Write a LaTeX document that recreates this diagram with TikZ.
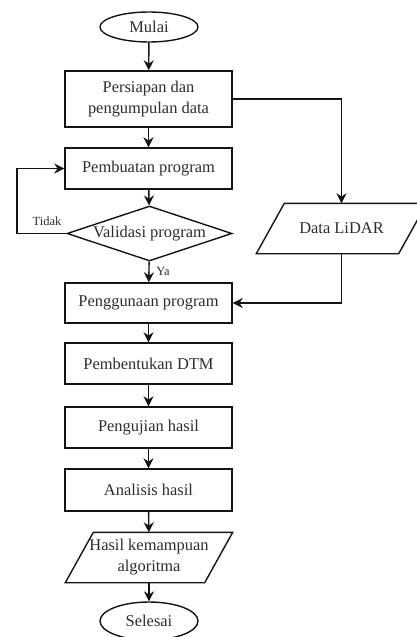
\documentclass[tikz,border=0pt]{standalone}
\usepackage{fontspec}
\setmainfont{Liberation Serif}
\usetikzlibrary{arrows.meta, shapes.geometric}
\definecolor{inkc}{RGB}{20,20,20}
\definecolor{txtc}{RGB}{45,45,45}

\begin{document}
\begin{tikzpicture}[x=1bp, y=-1bp,
    line width=1.4bp, inkc,
    font=\fontsize{16.5}{21}\selectfont,
    box/.style={draw, rectangle, minimum width=167bp, minimum height=41bp,
      inner sep=2bp, align=center, text=txtc},
    term/.style={draw, ellipse, minimum width=98bp, minimum height=30bp,
      inner sep=0pt, text=txtc},
    io/.style={rectangle, minimum width=167bp, minimum height=49bp,
      inner sep=0pt, align=center, text=txtc},
    decide/.style={draw, diamond, aspect=3, minimum width=165bp, minimum height=55bp,
      inner sep=0pt, text=txtc},
    lbl/.style={font=\fontsize{12.5}{14}\selectfont, text=txtc},
    arr/.style={-{Stealth[length=10bp, width=10bp]}}]
  \useasboundingbox (0,0) rectangle (416,637);
  \def\dsl{28bp}% slant of the data shapes

  % main column
  \node[term] (mulai) at (149,27) {Mulai};
  \node[box, minimum height=56bp] (persiapan) at (148.5,99) {Persiapan dan\\pengumpulan data};
  \node[box] (pembuatan) at (148.5,168.5) {Pembuatan program};
  \node[decide] (validasi) at (149.5,233.5) {Validasi program};
  \node[box, minimum height=40bp] (penggunaan) at (148.5,303) {Penggunaan program};
  \node[box] (dtm) at (148.5,363.5) {Pembentukan DTM};
  \node[box] (uji) at (148.5,427.5) {Pengujian hasil};
  \node[box, minimum height=42bp] (analisis) at (148.5,490) {Analisis hasil};
  \node[io, minimum width=166bp] (hasil) at (149,557.5) {Hasil kemampuan\\algoritma};
  \node[term, minimum height=38bp] (selesai) at (149,621) {Selesai};

  % input data on the right
  \node[io, minimum width=169bp] (lidar) at (341.5,228.5) {Data LiDAR};

  % data shapes as parallelograms
  \foreach \n in {hasil, lidar}{
    \draw ([xshift=\dsl]\n.north west) -- (\n.north east)
      -- ([xshift=-\dsl]\n.south east) -- (\n.south west) -- cycle;
  }

  % loop corner for the "no" branch
  \coordinate (loop) at (17,233.5);

  \draw[arr] (mulai) -- (persiapan);
  \draw[arr] (persiapan) -- (pembuatan);
  \draw[arr] (pembuatan) -- (validasi);
  \draw[arr] (validasi) -- (penggunaan);
  \draw[arr] (penggunaan) -- (dtm);
  \draw[arr] (dtm) -- (uji);
  \draw[arr] (uji) -- (analisis);
  \draw[arr] (analisis) -- (hasil);
  \draw[arr] (hasil) -- (selesai);

  \draw[arr] (validasi.west) -- (loop) |- (pembuatan.west);
  \draw[arr] (persiapan.east) -| (lidar.north);
  \draw[arr] (lidar.south) |- (penggunaan.east);

  % branch labels
  \node[lbl] (tidak) at (47,221) {Tidak};
  \node[lbl] (ya) at (163,271) {Ya};
\end{tikzpicture}
\end{document}
